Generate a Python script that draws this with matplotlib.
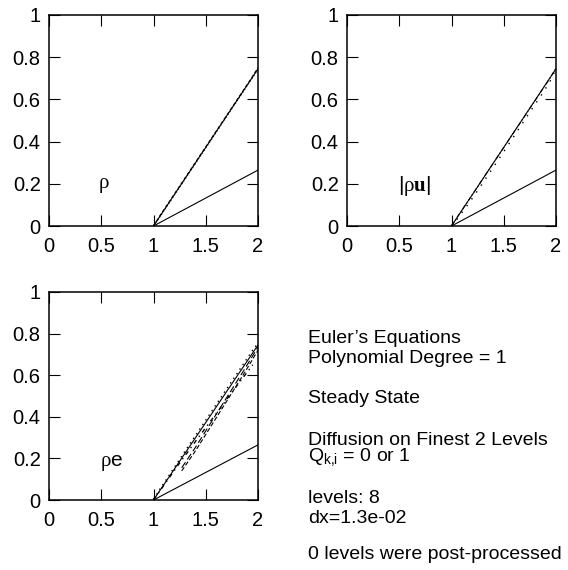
import numpy as np
import matplotlib
matplotlib.use("Agg")
import matplotlib.pyplot as plt

plt.rcParams["font.family"] = ["Liberation Sans", "DejaVu Sans"]
plt.rcParams["mathtext.fontset"] = "custom"
plt.rcParams["mathtext.rm"] = "Liberation Sans"
plt.rcParams["mathtext.sf"] = "Liberation Serif"
plt.rcParams["mathtext.bf"] = "Liberation Serif:bold"
plt.rcParams["mathtext.fallback"] = "stix"

# exact solution and reference (lower) line
x_line = [1.0, 2.0]
exact_y = [0.0, 0.745]
lower_y = [0.0, 0.265]

# computed solution sample points
x_pts = [1.0, 1.0625, 1.125, 1.1875, 1.25, 1.3125, 1.375, 1.4375, 1.5,
         1.5625, 1.625, 1.6875, 1.75, 1.8125, 1.875, 1.9375, 2.0]

rho_dash = [0.0, 0.050, 0.096, 0.143, 0.189, 0.236, 0.282, 0.329, 0.375,
            0.422, 0.468, 0.515, 0.561, 0.608, 0.654, 0.701, 0.750]
rho_dot = [0.003, 0.044, 0.091, 0.137, 0.184, 0.230, 0.277, 0.323, 0.370,
           0.416, 0.463, 0.509, 0.556, 0.602, 0.649, 0.695, 0.742]

mom_dot = [0.0, 0.038, 0.080, 0.123, 0.168, 0.214, 0.260, 0.306, 0.352,
           0.399, 0.446, 0.493, 0.540, 0.586, 0.632, 0.680, 0.745]
mom_dashdot = [0.002, 0.048, 0.094, 0.140, 0.186, 0.233, 0.279, 0.326, 0.372,
               0.419, 0.465, 0.511, 0.558, 0.604, 0.651, 0.697, 0.748]

en_dot = [0.004, 0.053, 0.100, 0.148, 0.195, 0.243, 0.290, 0.337, 0.384,
          0.431, 0.478, 0.525, 0.572, 0.618, 0.665, 0.712, 0.755]
en_dash_x = [1.27, 1.4, 1.5, 1.625, 1.75, 1.875, 2.0]
en_dash_a = [0.140, 0.235, 0.315, 0.415, 0.515, 0.615, 0.720]
en_dash_b = [0.155, 0.252, 0.332, 0.432, 0.532, 0.632, 0.735]
en_dd_x = [1.0, 1.25, 1.5, 1.625, 1.75, 1.875, 1.95]
en_dd_y = [0.0, 0.178, 0.348, 0.432, 0.518, 0.600, 0.650]

xticks = [0, 0.5, 1, 1.5, 2]
yticks = [0, 0.2, 0.4, 0.6, 0.8, 1]

fig = plt.figure(figsize=(5.68, 5.70), dpi=100)
W, H = 568.0, 570.0


def make_ax(x0, y0, x1, y1):
    ax = fig.add_axes([x0 / W, 1 - y1 / H, (x1 - x0) / W, (y1 - y0) / H])
    ax.set_xlim(0, 2)
    ax.set_ylim(0, 1)
    ax.set_xticks(xticks)
    ax.set_xticklabels(["0", "0.5", "1", "1.5", "2"])
    ax.set_yticks(yticks)
    ax.set_yticklabels(["0", "0.2", "0.4", "0.6", "0.8", "1"])
    ax.tick_params(direction="in", length=8, width=0.8, top=True, right=True,
                   labelsize=14.5)
    ax.tick_params(axis="x", pad=8)
    ax.tick_params(axis="y", pad=6)
    for s in ax.spines.values():
        s.set_linewidth(1.1)
    return ax


lw = 0.8
ax1 = make_ax(49, 15, 258, 226)
ax1.plot(x_line, exact_y, color="black", lw=lw)
ax1.plot(x_line, lower_y, color="black", lw=lw)
ax1.plot(x_pts, rho_dash, color="black", lw=lw, ls=(0, (3, 2)))
ax1.plot(x_pts, rho_dot, color="black", lw=lw, ls=(0, (1, 2)))
ax1.text(0.52, 0.19, r"$\mathsf{ρ}$", fontsize=15, ha="center", va="center")

ax2 = make_ax(347, 15, 556, 226)
ax2.plot(x_line, exact_y, color="black", lw=lw)
ax2.plot(x_line, lower_y, color="black", lw=lw)
ax2.plot(x_pts, mom_dot, color="black", lw=1.0, ls=(0, (1, 5)))
ax2.plot(x_pts, mom_dashdot, color="black", lw=lw, ls=(0, (4, 2, 1, 2)))
ax2.text(0.65, 0.19, r"$|\mathsf{ρ}\mathbf{u}|$", fontsize=15, ha="center", va="center")

ax3 = make_ax(49, 292, 258, 500)
ax3.plot(x_line, exact_y, color="black", lw=lw)
ax3.plot(x_line, lower_y, color="black", lw=lw)
ax3.plot(x_pts, en_dot, color="black", lw=1.0, ls=(0, (1, 3)))
ax3.plot(en_dash_x, en_dash_a, color="black", lw=lw, ls=(0, (4, 2)))
ax3.plot(en_dash_x, en_dash_b, color="black", lw=lw, ls=(0, (6, 3)))
ax3.plot(en_dd_x, en_dd_y, color="black", lw=1.0, ls=(0, (3, 3, 1, 3)))
ax3.text(0.6, 0.18, r"$\mathsf{ρ}$e", fontsize=15, ha="center", va="center")

# annotation text block
info = [
    ("Euler\u2019s Equations", 343),
    ("Polynomial Degree = 1", 363),
    ("Steady State", 403),
    ("Diffusion on Finest 2 Levels", 445),
    (r"Q$_{\mathrm{k{,}i}}$ = 0 or 1", 462),
    ("levels: 8", 503),
    ("dx=1.3e-02", 523),
    ("0 levels were post-processed", 559),
]
for txt, yb in info:
    fig.text(308 / W, 1 - yb / H, txt, fontsize=14, ha="left", va="baseline")

fig.savefig("out.png", dpi=100)
